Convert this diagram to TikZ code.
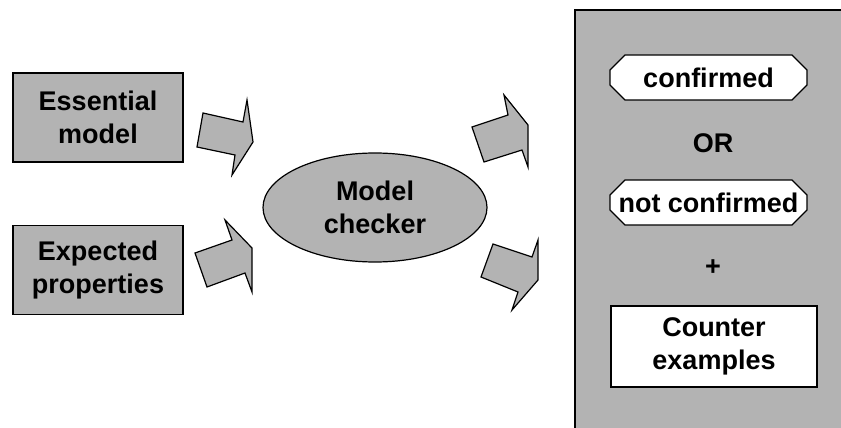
\documentclass[tikz,border=0pt]{standalone}
\usepackage{fontspec}
\setmainfont{Liberation Sans}
\usetikzlibrary{shapes.geometric}
\definecolor{boxgray}{RGB}{179,179,179}
\tikzset{
  every node/.style={font=\fontsize{27}{33}\selectfont\bfseries, align=center, inner sep=0pt},
  graybox/.style={draw=black, fill=boxgray, line width=1.2pt, minimum width=170pt, minimum height=89pt},
  whitebox/.style={draw=black, fill=white, line width=1.2pt, minimum width=206pt, minimum height=81pt},
  blockarrow/.style={draw=black, fill=boxgray, line width=1.2pt, line join=miter},
  chamf/.style={draw=black, fill=white, line width=1.2pt},
  panel/.style={draw=black, fill=boxgray, line width=1.2pt},
  oval/.style={ellipse, draw=black, fill=boxgray, line width=1.2pt, minimum width=224pt, minimum height=109pt}
}
\begin{document}
\begin{tikzpicture}[x=1pt, y=-1pt]
\useasboundingbox (0,0) rectangle (841,428);
% left boxes
\node[graybox] (ess) at (98,117.5) {Essential\\model};
\node[graybox] (exp) at (98,270) {Expected\\properties};
% model checker
\node[oval] (mc) at (375,207.5) {Model\\checker};
% block arrows
\draw[blockarrow] (203,113) -- (243,122) -- (247,100) -- (253,142) -- (232,175) -- (235,155) -- (197,147) -- cycle;
\draw[blockarrow] (195,253) -- (232,240) -- (225,220) -- (252,248) -- (252,292) -- (245,273) -- (207,287) -- cycle;
\draw[blockarrow] (472,127) -- (508,115) -- (504,95) -- (528,125) -- (528,167) -- (522,150) -- (484,162) -- cycle;
\draw[blockarrow] (493,244) -- (532,257) -- (538,240) -- (538,280) -- (512,310) -- (518,292) -- (481,277) -- cycle;
% right panel
\draw[panel] (575,10) rectangle (845,435);
% confirmed
\draw[chamf] (625,55) -- (792,55) -- (807,70) -- (807,85) -- (792,100) -- (625,100) -- (610,85) -- (610,70) -- cycle;
\node (conf) at (708.5,78) {confirmed};
\node (or) at (713,143) {OR};
\draw[chamf] (625,180) -- (792,180) -- (807,195) -- (807,210) -- (792,225) -- (625,225) -- (610,210) -- (610,195) -- cycle;
\node (nconf) at (708.5,203) {not confirmed};
\node (plus) at (713,268) {+};
\node[whitebox] (ce) at (714,346.5) {Counter\\examples};
\end{tikzpicture}
\end{document}
